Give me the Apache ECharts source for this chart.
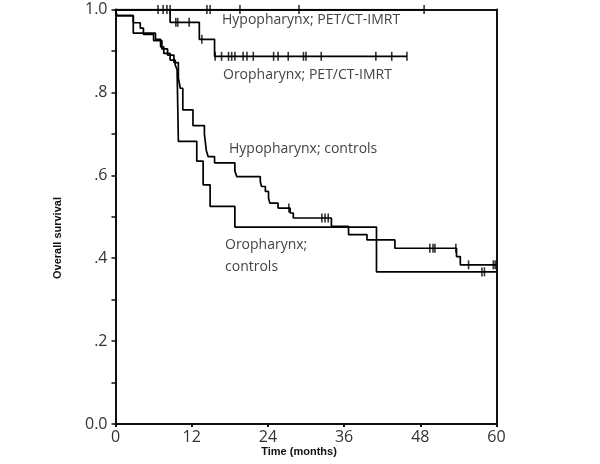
<!DOCTYPE html>
<html><head><meta charset="utf-8">
<script src="https://cdn.jsdelivr.net/npm/echarts@6/dist/echarts.min.js"></script>
<style>html,body{margin:0;padding:0;background:#fff}#c{width:600px;height:464px}</style>
</head><body><div id="c"></div>
<script>
// ---- data ----
const yTickLabels = ['0.0', '', '.2', '', '.4', '', '.6', '', '.8', '', '1.0'];
const xTitle = 'Time (months)';
const yTitle = 'Overall survival';

// Hypopharynx; PET/CT-IMRT
const hpTime = [0, 48.6];
const hpSurv = [1, 1];
const hpCens = [6.7, 7.5, 8.1, 8.6, 14.4, 14.9, 19.6, 28.9, 48.6];

// Oropharynx; PET/CT-IMRT
const opTime = [0, 8.6, 13.2, 15.6, 45.9];
const opSurv = [1, 0.969, 0.928, 0.887, 0.887];
const opCens = [9.5, 9.8, 11.6, 13.6, 15.7, 16.7, 17.8, 18.3, 18.8, 20.1, 20.7, 21.7, 24.9, 25.6, 27.2, 29.6, 30.0, 32.4, 41.0, 43.5, 45.9];

// Hypopharynx; controls
const hcTime = [0, 0.2, 2.8, 3.9, 4.4, 6.0, 7.3, 8.2, 9.2, 9.9, 10.2, 10.6, 12.2, 14.0, 14.3, 14.6, 15.6, 18.8, 19.1, 22.8, 23.0, 23.6, 24.1, 24.3, 25.6, 27.5, 28.0, 34.0, 36.7, 39.6, 44.0, 53.7, 54.3, 60];
const hcSurv = [1, 0.985, 0.968, 0.955, 0.94, 0.925, 0.905, 0.89, 0.872, 0.835, 0.81, 0.758, 0.72, 0.70, 0.66, 0.645, 0.63, 0.61, 0.597, 0.585, 0.573, 0.561, 0.545, 0.533, 0.521, 0.509, 0.497, 0.477, 0.457, 0.444, 0.424, 0.404, 0.384, 0.384];
const hcCens = [27.3, 32.5, 33.0, 33.5, 49.5, 50.0, 50.3, 53.6, 55.6, 59.5, 59.8];

// Oropharynx; controls
const ocTime = [0, 0.2, 2.8, 6.3, 7.1, 7.6, 8.6, 9.4, 9.7, 9.9, 12.8, 13.8, 14.9, 18.8, 41.1, 60];
const ocSurv = [1, 0.985, 0.943, 0.928, 0.91, 0.894, 0.878, 0.866, 0.855, 0.682, 0.634, 0.577, 0.525, 0.475, 0.367, 0.367];
const ocCens = [57.7, 58.1];

// ---- helpers ----
function pairs(t, s) { return t.map((v, i) => [v, s[i]]); }
function survAt(t, s, x) { let v = s[0]; for (let i = 0; i < t.length; i++) { if (t[i] <= x) v = s[i]; } return v; }
function censData(t, s, c) { return c.map(x => [x, survAt(t, s, x)]); }

const lineStyle = { color: '#000', width: 1.7 };
function curve(name, t, s) {
  return { name, type: 'line', step: 'end', data: pairs(t, s), symbol: 'none', lineStyle, silent: true, z: 3 };
}
function cens(name, t, s, c) {
  return { name: name + ' censored', type: 'scatter', data: censData(t, s, c), symbol: 'rect', symbolSize: [1.6, 9], itemStyle: { color: '#000' }, silent: true, z: 4 };
}

const chart = echarts.init(document.getElementById('c'), null, { renderer: 'canvas' });
const labelFont = 'Open Sans';
chart.setOption({
  animation: false,
  backgroundColor: '#fff',
  grid: { left: 115.5, right: 103.5, top: 9.5, bottom: 40 },
  xAxis: [{
    type: 'value', min: 0, max: 60, interval: 12,
    axisLine: { show: true, lineStyle: { color: '#111', width: 2 } },
    axisTick: { show: true, length: 3, lineStyle: { color: '#111', width: 2 } },
    axisLabel: { color: '#333', fontFamily: labelFont, fontSize: 16, margin: 5 },
    splitLine: { show: false }
  }, {
    type: 'value', min: 0, max: 60, position: 'top',
    axisLine: { show: true, onZero: false, lineStyle: { color: '#111', width: 2 } },
    axisTick: { show: false }, axisLabel: { show: false }, splitLine: { show: false }
  }],
  yAxis: [{
    type: 'value', min: 0, max: 1, interval: 0.1,
    axisLine: { show: true, lineStyle: { color: '#111', width: 2 } },
    axisTick: { show: true, length: 4, lineStyle: { color: '#111', width: 1.5 } },
    axisLabel: {
      color: '#333', fontFamily: labelFont, fontSize: 16, margin: 8,
      formatter: v => yTickLabels[Math.round(v * 10)]
    },
    splitLine: { show: false }
  }, {
    type: 'value', min: 0, max: 1, position: 'right',
    axisLine: { show: true, onZero: false, lineStyle: { color: '#111', width: 2 } },
    axisTick: { show: false }, axisLabel: { show: false }, splitLine: { show: false }
  }],
  series: [
    curve('Hypopharynx; PET/CT-IMRT', hpTime, hpSurv),
    curve('Oropharynx; PET/CT-IMRT', opTime, opSurv),
    curve('Hypopharynx; controls', hcTime, hcSurv),
    curve('Oropharynx; controls', ocTime, ocSurv),
    cens('Hypopharynx; PET/CT-IMRT', hpTime, hpSurv, hpCens),
    cens('Oropharynx; PET/CT-IMRT', opTime, opSurv, opCens),
    cens('Hypopharynx; controls', hcTime, hcSurv, hcCens),
    cens('Oropharynx; controls', ocTime, ocSurv, ocCens)
  ],
  graphic: [
    { type: 'text', left: 222, top: 13, style: { text: 'Hypopharynx; PET/CT-IMRT', fill: '#444', font: '14px "Open Sans"' } },
    { type: 'text', left: 223, top: 68, style: { text: 'Oropharynx; PET/CT-IMRT', fill: '#444', font: '14px "Open Sans"' } },
    { type: 'text', left: 229, top: 142, style: { text: 'Hypopharynx; controls', fill: '#444', font: '14px "Open Sans"' } },
    { type: 'text', left: 225, top: 238, style: { text: 'Oropharynx;', fill: '#444', font: '14px "Open Sans"' } },
    { type: 'text', left: 225, top: 260, style: { text: 'controls', fill: '#444', font: '14px "Open Sans"' } },
    { type: 'text', x: 58, y: 238, rotation: Math.PI / 2, style: { text: yTitle, fill: '#111', font: 'bold 11px "Liberation Sans"', align: 'center', verticalAlign: 'middle' } },
    { type: 'text', x: 299, y: 452, style: { text: xTitle, fill: '#111', font: 'bold 11px "Liberation Sans"', align: 'center', verticalAlign: 'middle' } }
  ]
});
</script>
</body></html>
